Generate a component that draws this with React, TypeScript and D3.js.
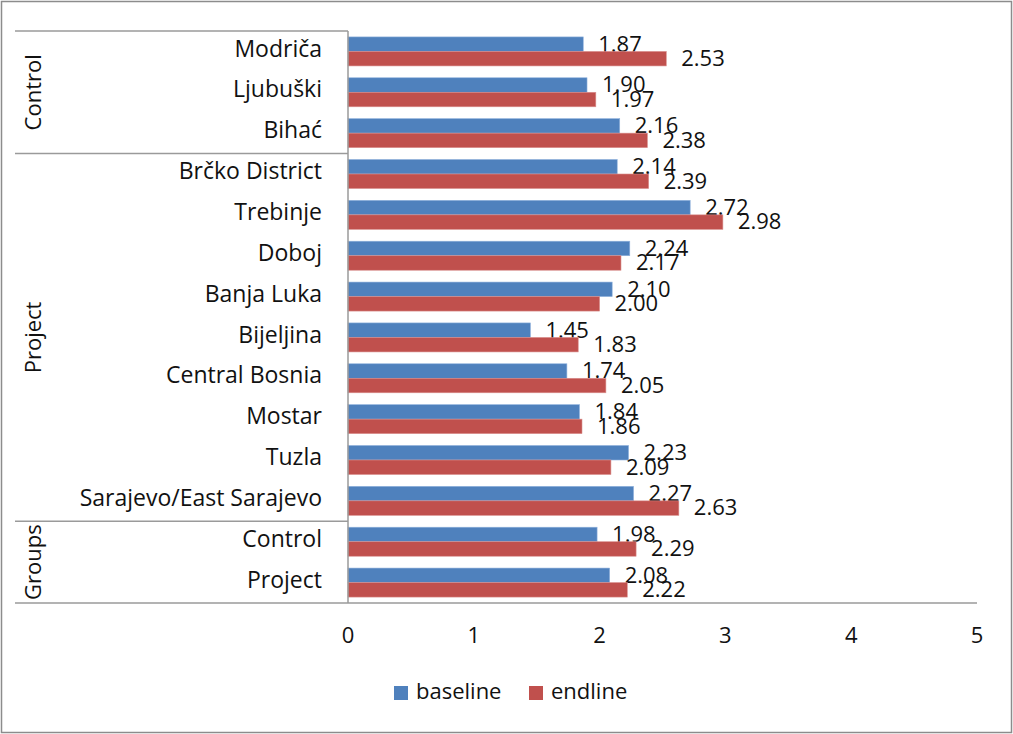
import { useEffect, useRef } from "react";
import * as d3 from "d3";

const categories = [
    "Modriča",
    "Ljubuški",
    "Bihać",
    "Brčko District",
    "Trebinje",
    "Doboj",
    "Banja Luka",
    "Bijeljina",
    "Central Bosnia",
    "Mostar",
    "Tuzla",
    "Sarajevo/East Sarajevo",
    "Control",
    "Project",
];
const baseline = [1.87, 1.9, 2.16, 2.14, 2.72, 2.24, 2.1, 1.45, 1.74, 1.84, 2.23, 2.27, 1.98, 2.08];
const endline = [2.53, 1.97, 2.38, 2.39, 2.98, 2.17, 2.0, 1.83, 2.05, 1.86, 2.09, 2.63, 2.29, 2.22];
const groups = [
    { name: "Control", from: 0, to: 2 },
    { name: "Project", from: 3, to: 11 },
    { name: "Groups", from: 12, to: 13 },
];
const xTicks = [0, 1, 2, 3, 4, 5];
const seriesNames = ["baseline", "endline"];
const colors = ["#4F81BD", "#C0504D"];

const W = 1013;
const H = 734;
const FONT = "'Open Sans', 'Noto Sans', sans-serif";

export default function App() {
    const svgRef = useRef<SVGSVGElement>(null);

    useEffect(() => {
        if (!svgRef.current) return;
        const svg = d3.select(svgRef.current);
        svg.selectAll("*").remove();

        const left = 348;
        const right = 977;
        const top = 31;
        const bottom = 603;

        const x = d3.scaleLinear().domain([0, 5]).range([left, right]);
        const y = d3.scaleBand<string>().domain(categories).range([top, bottom]).paddingInner(0.29).paddingOuter(0.145);
        const inner = d3.scaleBand<string>().domain(seriesNames).range([0, y.bandwidth()]);

        // outer frame
        svg.append("rect")
            .attr("x", 1.5).attr("y", 1.5)
            .attr("width", W - 3).attr("height", H - 3)
            .attr("fill", "white")
            .attr("stroke", "#8c8c8c")
            .attr("stroke-width", 1.5);

        const data = categories.map((c, i) => ({ c, vals: [baseline[i], endline[i]] }));

        const rows = svg.append("g").selectAll("g")
            .data(data)
            .enter()
            .append("g")
            .attr("transform", (d) => `translate(0,${y(d.c)})`);

        seriesNames.forEach((s, si) => {
            rows.append("rect")
                .attr("x", x(0))
                .attr("y", inner(s)!)
                .attr("width", (d) => x(d.vals[si]) - x(0))
                .attr("height", inner.bandwidth())
                .attr("fill", colors[si])
                .attr("stroke", si === 0 ? "#8fb1dc" : "#d98f8d")
                .attr("stroke-width", 0.6);

            rows.append("text")
                .attr("x", (d) => x(d.vals[si]) + 15)
                .attr("y", inner(s)! + inner.bandwidth() / 2 + 1.5)
                .attr("dominant-baseline", "middle")
                .style("font-family", FONT)
                .style("font-size", "22px")
                .style("fill", "#111")
                .text((d) => d.vals[si].toFixed(2));
        });

        // category labels
        svg.append("g").selectAll("text")
            .data(categories)
            .enter()
            .append("text")
            .attr("x", 322)
            .attr("y", (d) => y(d)! + y.bandwidth() / 2 - 1)
            .attr("text-anchor", "end")
            .attr("dominant-baseline", "middle")
            .style("font-family", FONT)
            .style("font-size", "23px")
            .style("fill", "#111")
            .text((d) => d);

        // group separators and labels
        const step = y.step();
        const rowTop = (i: number) => y(categories[i])! - y.paddingOuter() * step;
        const sepColor = "#9a9a9a";
        const lines = [top, ...groups.map((g) => rowTop(g.to) + step)];
        svg.append("g").selectAll("line")
            .data(lines)
            .enter()
            .append("line")
            .attr("x1", 15).attr("x2", (d, i) => (i === lines.length - 1 ? right : left))
            .attr("y1", (d) => d).attr("y2", (d) => d)
            .attr("stroke", sepColor)
            .attr("stroke-width", 1.5);

        svg.append("g").selectAll("text")
            .data(groups)
            .enter()
            .append("text")
            .attr("transform", (g) => {
                const cy = (rowTop(g.from) + rowTop(g.to) + step) / 2;
                return `translate(35,${cy}) rotate(-90)`;
            })
            .attr("text-anchor", "middle")
            .attr("dominant-baseline", "middle")
            .style("font-family", FONT)
            .style("font-size", "22px")
            .style("fill", "#111")
            .text((g) => g.name);

        // value axis
        svg.append("line")
            .attr("x1", left).attr("x2", left)
            .attr("y1", top).attr("y2", bottom)
            .attr("stroke", sepColor)
            .attr("stroke-width", 1.5);

        svg.append("g").selectAll("text")
            .data(xTicks)
            .enter()
            .append("text")
            .attr("x", (d) => x(d))
            .attr("y", 637)
            .attr("text-anchor", "middle")
            .attr("dominant-baseline", "middle")
            .style("font-family", FONT)
            .style("font-size", "22px")
            .style("fill", "#111")
            .text((d) => d);

        // legend
        const legendX = [394, 529];
        const lg = svg.append("g").selectAll("g")
            .data(seriesNames)
            .enter()
            .append("g")
            .attr("transform", (d, i) => `translate(${legendX[i]},686)`);
        lg.append("rect")
            .attr("width", 14).attr("height", 14)
            .attr("fill", (d, i) => colors[i]);
        lg.append("text")
            .attr("x", 22).attr("y", 7)
            .attr("dominant-baseline", "middle")
            .style("font-family", FONT)
            .style("font-size", "22px")
            .style("fill", "#111")
            .text((d) => d);
    }, []);

    return (
        <div style={{ position: "absolute", left: 0, top: 0 }}>
            <svg ref={svgRef} width={W} height={H} viewBox={`0 0 ${W} ${H}`} style={{ display: "block" }} />
        </div>
    );
}
